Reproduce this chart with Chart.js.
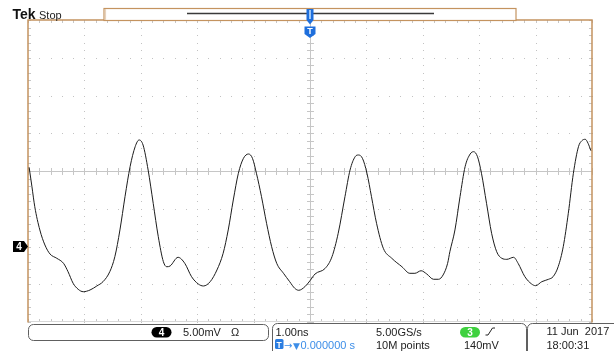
<!DOCTYPE html>
<html>
<head>
<meta charset="utf-8">
<script src="https://cdn.jsdelivr.net/npm/chart.js@4/dist/chart.umd.min.js"></script>
<style>
  html, body { margin: 0; padding: 0; background: #fff; }
  #wrap { position: relative; width: 614px; height: 351px; overflow: hidden; }
  #scope { position: absolute; left: 0; top: 0; }
  #hud { position: absolute; left: 0; top: 0; pointer-events: none; }
  #hud text { font-family: "Liberation Sans", Arial, sans-serif; fill: #222; }
</style>
</head>
<body>
<div id="wrap">
  <canvas id="scope" width="614" height="351"></canvas>
  <svg id="hud" width="614" height="351" xmlns="http://www.w3.org/2000/svg">
    <!-- header -->
    <text x="12.5" y="19" font-size="14" font-weight="bold" style="fill:#111">Tek</text>
    <text x="39" y="18.5" font-size="11">Stop</text>

    <!-- channel readout -->
    <rect x="28.5" y="324.5" width="240" height="16" rx="5" fill="none" stroke="#606060" stroke-width="1"/>
    <rect x="151.5" y="327" width="20" height="10.5" rx="5.2" fill="#000"/>
    <text x="161.5" y="336" font-size="10" font-weight="bold" text-anchor="middle" style="fill:#fff">4</text>
    <text x="183" y="336" font-size="11">5.00mV</text>
    <text x="231" y="336" font-size="11">Ω</text>

    <!-- horizontal / trigger readout -->
    <rect x="272.5" y="323.5" width="254" height="36" rx="5" fill="none" stroke="#606060" stroke-width="1"/>
    <text x="275.5" y="336" font-size="11">1.00ns</text>
    <rect x="275" y="339" width="8.5" height="10" rx="1.5" fill="#2a7de1"/>
    <text x="279.2" y="347.6" font-size="8.5" font-weight="bold" text-anchor="middle" style="fill:#fff">T</text>
    <text x="284" y="348.5" font-size="10" style="fill:#3d8ee8;font-family:'DejaVu Sans',sans-serif">→</text>
    <text x="293" y="349" font-size="9" style="fill:#3d8ee8;font-family:'DejaVu Sans',sans-serif">▼</text>
    <text x="300.5" y="349" font-size="11" style="fill:#3d8ee8">0.000000 s</text>
    <text x="376" y="336" font-size="11">5.00GS/s</text>
    <text x="376" y="349" font-size="11">10M points</text>
    <rect x="460" y="327" width="20" height="10.5" rx="5.2" fill="#3fd13f"/>
    <text x="470" y="336" font-size="10" font-weight="bold" text-anchor="middle" style="fill:#fff">3</text>
    <polyline points="485.5,335 488,335 492.5,328 495,328" fill="none" stroke="#222" stroke-width="1"/>
    <text x="464" y="349" font-size="11">140mV</text>

    <!-- date / time -->
    <rect x="527.5" y="323.5" width="100" height="36" rx="5" fill="none" stroke="#606060" stroke-width="1"/>
    <text x="546.5" y="334.5" font-size="11" xml:space="preserve">11 Jun  2017</text>
    <text x="546.5" y="349" font-size="11">18:00:31</text>
  </svg>
</div>
<script>
// Channel 4 acquisition: time in ns relative to the trigger, amplitude in mV relative to ground
const timeNs = [
  -4.98, -4.93, -4.88, -4.79, -4.70, -4.61, -4.49, -4.37, -4.29, -4.20,
  -4.11, -4.02, -3.90, -3.78, -3.67, -3.55, -3.46, -3.37, -3.28, -3.19,
  -3.10, -3.03, -2.96, -2.87, -2.78, -2.69, -2.60, -2.54, -2.48,
  -2.34, -2.22, -2.10, -1.98, -1.89, -1.77, -1.65, -1.54, -1.45, -1.36,
  -1.27, -1.18, -1.09, -1.02, -0.95, -0.86, -0.77, -0.68, -0.59, -0.47,
  -0.36, -0.27, -0.20, -0.09, 0.00,
  0.09, 0.27, 0.39, 0.50, 0.62, 0.71, 0.80, 0.86, 0.93, 1.01,
  1.09, 1.18, 1.30, 1.45, 1.63, 1.77, 1.86, 1.97, 2.07, 2.19,
  2.28, 2.36, 2.44, 2.48,
  2.57, 2.66, 2.75, 2.84, 2.90, 2.97, 3.04, 3.13, 3.22, 3.31,
  3.40, 3.49, 3.61, 3.69, 3.81, 3.93, 4.00, 4.11, 4.23, 4.31,
  4.40, 4.49, 4.58, 4.67, 4.76, 4.82, 4.88, 4.93, 4.98
];
const ch4Mv = [
  10.49, 7.92, 5.27, 2.19, 0.20, -0.99, -1.56, -2.23, -3.34, -4.87,
  -5.67, -5.99, -5.76, -5.23, -4.66, -3.34, -1.35, 2.19, 6.60, 10.57,
  13.22, 14.11, 13.44, 10.13, 5.72, 1.30, -2.01, -2.68, -2.58,
  -1.43, -2.23, -4.00, -4.97, -5.23, -4.66, -3.11, -0.90, 2.19, 6.16,
  9.70, 11.68, 12.25, 11.68, 9.70, 6.60, 3.07, -0.03, -2.23, -3.55,
  -4.66, -5.54, -5.80, -5.32, -4.53,
  -3.64, -2.89, -1.35, 1.75, 6.60, 10.13, 11.89, 12.12, 11.68, 9.70,
  6.60, 3.07, -0.24, -1.56, -2.68, -3.55, -3.55, -3.21, -3.64, -4.34,
  -4.34, -3.77, -2.23, -0.69,
  2.19, 6.60, 10.57, 12.25, 12.56, 11.89, 9.70, 5.72, 1.75, -0.69,
  -1.56, -1.70, -1.43, -2.23, -4.00, -4.97, -5.19, -4.66, -4.34, -4.00,
  -2.68, -0.03, 4.40, 9.70, 13.22, 14.01, 14.20, 13.67, 12.69
];

// Screen settings: 10 horizontal x 8 vertical divisions
const nsPerDiv = 1.00;
const mvPerDiv = 5.00;
const hDivs = 10;
const vDivs = 8;
const groundDiv = -2;          // channel 4 ground sits two divisions below centre
const triggerNs = 0;

const xMin = -hDivs / 2 * nsPerDiv;
const xMax = hDivs / 2 * nsPerDiv;
const yMin = (-vDivs / 2 - groundDiv) * mvPerDiv;
const yMax = (vDivs / 2 - groundDiv) * mvPerDiv;
const yCentre = (yMin + yMax) / 2;

const BORDER = '#c4935f';
const GRID = '#c2c2c2';
const BLUE = '#1f6fdc';

const graticule = {
  id: 'graticule',
  beforeDatasetsDraw(chart) {
    const { ctx, chartArea: a, scales: { x, y } } = chart;
    const xs = [], ys = [];
    for (let i = 0; i <= hDivs * 5; i++) xs.push(Math.round(x.getPixelForValue(xMin + i * nsPerDiv / 5)));
    for (let j = 0; j <= vDivs * 5; j++) ys.push(Math.round(y.getPixelForValue(yMin + j * mvPerDiv / 5)));
    const cx = Math.round(x.getPixelForValue(xMin + hDivs / 2 * nsPerDiv));
    const cy = Math.round(y.getPixelForValue(yCentre));
    ctx.save();
    // dotted division lines
    ctx.fillStyle = GRID;
    for (let i = 5; i < hDivs * 5; i += 5) {
      if (i === hDivs * 5 / 2) continue;
      for (const py of ys) ctx.fillRect(xs[i], py, 1, 1);
    }
    for (let j = 5; j < vDivs * 5; j += 5) {
      if (j === vDivs * 5 / 2) continue;
      for (const px of xs) ctx.fillRect(px, ys[j], 1, 1);
    }
    // centre crosshair with minor ticks
    ctx.strokeStyle = '#c6c6c6';
    ctx.lineWidth = 1;
    ctx.beginPath();
    ctx.moveTo(a.left, cy + 0.5); ctx.lineTo(a.right, cy + 0.5);
    ctx.moveTo(cx + 0.5, a.top); ctx.lineTo(cx + 0.5, a.bottom);
    for (const px of xs) { ctx.moveTo(px + 0.5, cy - 3); ctx.lineTo(px + 0.5, cy + 4); }
    for (const py of ys) { ctx.moveTo(cx - 3, py + 0.5); ctx.lineTo(cx + 4, py + 0.5); }
    // edge ticks
    for (const px of xs) {
      ctx.moveTo(px + 0.5, a.top); ctx.lineTo(px + 0.5, a.top + 3);
      ctx.moveTo(px + 0.5, a.bottom - 3); ctx.lineTo(px + 0.5, a.bottom);
    }
    for (const py of ys) {
      ctx.moveTo(a.left, py + 0.5); ctx.lineTo(a.left + 3, py + 0.5);
      ctx.moveTo(a.right - 3, py + 0.5); ctx.lineTo(a.right, py + 0.5);
    }
    ctx.stroke();
    ctx.strokeStyle = '#d8d8d8';
    ctx.beginPath();
    ctx.moveTo(a.left, a.bottom - 0.5); ctx.lineTo(a.right, a.bottom - 0.5);
    ctx.stroke();
    // frame
    ctx.strokeStyle = BORDER;
    ctx.lineWidth = 1.5;
    ctx.beginPath();
    ctx.moveTo(a.left, a.bottom + 0.5);
    ctx.lineTo(a.left, a.top);
    ctx.lineTo(a.right, a.top);
    ctx.lineTo(a.right, a.bottom + 0.5);
    ctx.stroke();
    // record overview bar
    ctx.fillStyle = '#fff';
    ctx.fillRect(104, 8, 412, 12);
    ctx.lineWidth = 1.2;
    ctx.strokeRect(104, 8.5, 412, 12);
    ctx.strokeStyle = '#e6d2bd';
    ctx.beginPath(); ctx.moveTo(105.5, 9); ctx.lineTo(105.5, 20); ctx.stroke();
    ctx.strokeStyle = '#3a3a3a';
    ctx.lineWidth = 1.5;
    ctx.beginPath(); ctx.moveTo(187, 13.5); ctx.lineTo(434, 13.5); ctx.stroke();
    ctx.restore();
  },
  afterDatasetsDraw(chart) {
    const { ctx, chartArea: a, scales: { x, y } } = chart;
    const tx = x.getPixelForValue(triggerNs);
    const gy = y.getPixelForValue(0);
    ctx.save();
    // trigger position in the record bar
    ctx.fillStyle = BLUE;
    ctx.fillRect(tx - 3.5, 9, 7, 11);
    ctx.fillStyle = '#9cc6f5';
    ctx.fillRect(tx - 1, 10, 2, 9);
    ctx.fillStyle = BLUE;
    ctx.beginPath();
    ctx.moveTo(tx - 3.5, 20); ctx.lineTo(tx + 3.5, 20); ctx.lineTo(tx, 24.5); ctx.closePath();
    ctx.fill();
    // trigger position marker under the frame
    ctx.beginPath();
    ctx.moveTo(tx - 5.5, 26.5);
    ctx.lineTo(tx + 5.5, 26.5);
    ctx.lineTo(tx + 5.5, 34);
    ctx.lineTo(tx, 38);
    ctx.lineTo(tx - 5.5, 34);
    ctx.closePath();
    ctx.fill();
    ctx.fillStyle = '#fff';
    ctx.font = 'bold 9px "Liberation Sans", Arial, sans-serif';
    ctx.textAlign = 'center';
    ctx.textBaseline = 'middle';
    ctx.fillText('T', tx, 31.5);
    // channel 4 ground marker
    ctx.fillStyle = '#000';
    ctx.beginPath();
    ctx.moveTo(a.left - 15, gy - 5.5);
    ctx.lineTo(a.left - 4, gy - 5.5);
    ctx.lineTo(a.left, gy);
    ctx.lineTo(a.left - 4, gy + 5.5);
    ctx.lineTo(a.left - 15, gy + 5.5);
    ctx.closePath();
    ctx.fill();
    ctx.fillStyle = '#fff';
    ctx.font = 'bold 10px "Liberation Sans", Arial, sans-serif';
    ctx.fillText('4', a.left - 9, gy + 0.5);
    ctx.restore();
  }
};

new Chart(document.getElementById('scope'), {
  type: 'line',
  data: {
    datasets: [{
      label: 'CH4',
      data: timeNs.map((t, i) => ({ x: t, y: ch4Mv[i] })),
      borderColor: '#1c1c1c',
      borderWidth: 1,
      pointRadius: 0,
      cubicInterpolationMode: 'monotone',
      fill: false
    }]
  },
  options: {
    responsive: false,
    animation: false,
    devicePixelRatio: 1,
    layout: { padding: { left: 28, right: 22, top: 20, bottom: 29 } },
    plugins: { legend: { display: false }, tooltip: { enabled: false }, title: { display: false } },
    scales: {
      x: { type: 'linear', min: xMin, max: xMax, display: false },
      y: { type: 'linear', min: yMin, max: yMax, display: false }
    }
  },
  plugins: [graticule]
});
</script>
</body>
</html>
